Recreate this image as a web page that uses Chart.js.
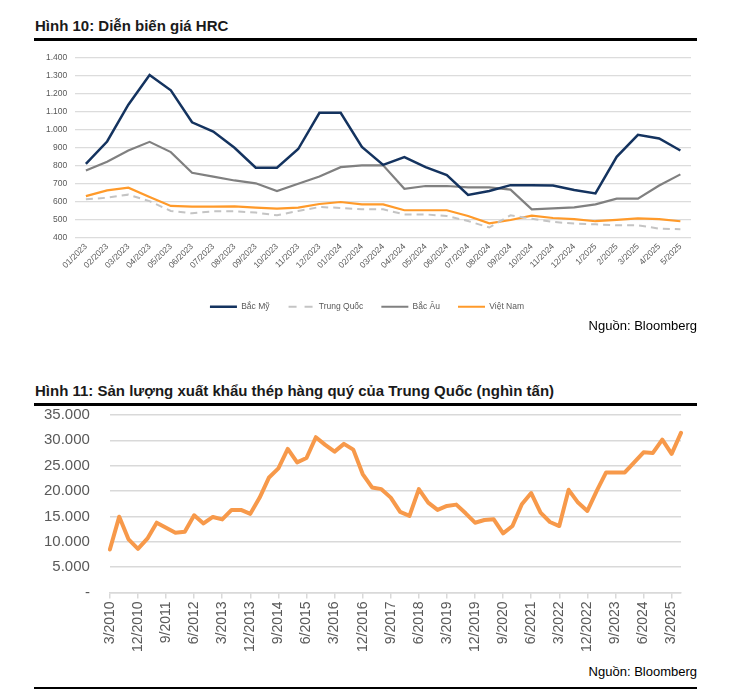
<!DOCTYPE html>
<html>
<head>
<meta charset="utf-8">
<script src="https://cdn.jsdelivr.net/npm/chart.js@4"></script>
<style>
  body { margin: 0; background: #fff; font-family: "Liberation Sans", Arial, sans-serif; }
  .wrap { position: relative; width: 730px; height: 698px; }
  .title { position: absolute; left: 35px; font-weight: bold; font-size: 15px; color: #1a1a1a; white-space: nowrap; }
  .rule { position: absolute; left: 34px; width: 663px; background: #000; }
  .src { position: absolute; right: 33px; font-size: 13px; color: #000; }
  .box { position: absolute; left: 0; width: 730px; }
</style>
</head>
<body>
<div class="wrap">
  <div class="title" style="top:17px;">Hình 10: Diễn biến giá HRC</div>
  <div class="rule" style="top:38px;height:2.5px;"></div>
  <div class="box" style="top:39px;height:282px;"><canvas id="hrc" width="730" height="282"></canvas></div>
  <div class="src" style="top:318px;">Nguồn: Bloomberg</div>

  <div class="title" style="top:382px;">Hình 11: Sản lượng xuất khẩu thép hàng quý của Trung Quốc (nghìn tấn)</div>
  <div class="rule" style="top:403px;height:2.5px;"></div>
  <div class="box" style="top:403px;height:252px;"><canvas id="xk" width="730" height="252"></canvas></div>
  <div class="src" style="top:664px;">Nguồn: Bloomberg</div>
  <div class="rule" style="top:687px;height:2px;"></div>
</div>
<script>
// Hinh 10 - gia HRC (USD/tan)
const thang = ['01/2023','02/2023','03/2023','04/2023','05/2023','06/2023','07/2023','08/2023','09/2023','10/2023','11/2023','12/2023',
  '01/2024','02/2024','03/2024','04/2024','05/2024','06/2024','07/2024','08/2024','09/2024','10/2024','11/2024','12/2024',
  '1/2025','2/2025','3/2025','4/2025','5/2025'];
const bacMy = [810,935,1140,1305,1220,1042,990,900,789,789,893,1095,1095,905,805,848,792,748,637,659,692,692,690,665,646,850,972,952,885];
const trungQuoc = [613,622,639,603,548,535,546,546,539,524,548,570,565,557,557,529,529,520,492,456,524,505,487,478,474,468,468,450,446];
const bacAu = [774,822,885,933,876,761,739,718,702,659,700,740,792,802,802,672,687,687,679,679,667,557,563,568,585,617,617,690,752];
const vietNam = [631,663,678,626,576,572,572,574,567,561,567,587,598,585,585,552,552,552,520,479,498,522,509,503,491,498,507,503,491];

// Hinh 11 - xuat khau thep theo quy (nghin tan)
const quy = ['3/2010','6/2010','9/2010','12/2010','3/2011','6/2011','9/2011','12/2011','3/2012','6/2012','9/2012','12/2012',
  '3/2013','6/2013','9/2013','12/2013','3/2014','6/2014','9/2014','12/2014','3/2015','6/2015','9/2015','12/2015',
  '3/2016','6/2016','9/2016','12/2016','3/2017','6/2017','9/2017','12/2017','3/2018','6/2018','9/2018','12/2018',
  '3/2019','6/2019','9/2019','12/2019','3/2020','6/2020','9/2020','12/2020','3/2021','6/2021','9/2021','12/2021',
  '3/2022','6/2022','9/2022','12/2022','3/2023','6/2023','9/2023','12/2023','3/2024','6/2024','9/2024','12/2024',
  '3/2025','6/2025'];
const xuatKhau = [8470,14940,10450,8600,10600,13750,12750,11770,11960,15200,13600,14880,
  14400,16270,16270,15500,18700,22680,24460,28300,25650,26520,30620,29100,
  27780,29300,28170,23350,20700,20370,18700,15870,15080,20370,17720,16270,
  17060,17320,15600,13750,14280,14420,11640,13090,17400,19600,15730,13890,
  13090,20240,17720,16070,20040,23670,23670,23670,25650,27640,27510,30150,
  27320,31480];

Chart.defaults.font.family = '"Liberation Sans", Arial, sans-serif';
Chart.defaults.animation = false;

const dotNghin = v => v === 0 ? '-' : v.toLocaleString('de-DE');

// mau gach ngang cho chu giai Trung Quoc
const gachNgang = document.createElement('canvas');
gachNgang.width = 27; gachNgang.height = 4;
const g = gachNgang.getContext('2d');
g.strokeStyle = '#c4c4c4'; g.lineWidth = 2; g.setLineDash([8, 8]);
g.beginPath(); g.moveTo(1, 2); g.lineTo(27, 2); g.stroke();

new Chart(document.getElementById('hrc'), {
  type: 'line',
  data: {
    labels: thang,
    datasets: [
      { label: 'Bắc Mỹ', data: bacMy, borderColor: '#14335f', borderWidth: 2.5, pointStyle: 'line' },
      { label: 'Trung Quốc', data: trungQuoc, borderColor: '#c4c4c4', borderWidth: 2, borderDash: [7, 5], pointStyle: gachNgang },
      { label: 'Bắc Âu', data: bacAu, borderColor: '#808080', borderWidth: 2.2, pointStyle: 'line' },
      { label: 'Việt Nam', data: vietNam, borderColor: '#ff9a2a', borderWidth: 2.2, pointStyle: 'line' }
    ]
  },
  options: {
    responsive: false,
    elements: { point: { radius: 0 }, line: { tension: 0 } },
    layout: { padding: { left: 43, right: 39, top: 19, bottom: 0 } },
    scales: {
      x: {
        offset: true,
        grid: { display: false, drawTicks: false },
        border: { display: false },
        ticks: { autoSkip: false, minRotation: 45, maxRotation: 45, padding: 4, color: '#595959', font: { size: 8.5 } },
        afterFit: s => { s.height += 10; }
      },
      y: {
        min: 400, max: 1400,
        ticks: { stepSize: 100, padding: 3, color: '#595959', font: { size: 8.5 }, callback: dotNghin },
        grid: { color: '#dcdcdc', lineWidth: 1.3, drawTicks: true, tickLength: 5, tickColor: 'rgba(0,0,0,0)' },
        border: { display: false }
      }
    },
    plugins: {
      tooltip: { enabled: false },
      legend: {
        position: 'bottom',
        labels: { usePointStyle: true, pointStyleWidth: 27, color: '#595959', font: { size: 8.5 }, padding: 18 }
      }
    }
  }
});

new Chart(document.getElementById('xk'), {
  type: 'line',
  data: {
    labels: quy,
    datasets: [
      { label: 'Xuất khẩu', data: xuatKhau, borderColor: '#f7994a', borderWidth: 4, borderJoinStyle: 'round', borderCapStyle: 'round' }
    ]
  },
  options: {
    responsive: false,
    elements: { point: { radius: 0 }, line: { tension: 0 } },
    layout: { padding: { left: 41, right: 49, top: 12, bottom: 0 } },
    scales: {
      x: {
        offset: false,
        grid: {
          drawOnChartArea: false, tickLength: 6, lineWidth: 1.5,
          color: c => c.index % 3 === 0 ? '#d9d9d9' : 'rgba(0,0,0,0)'
        },
        border: { color: '#d9d9d9', width: 1.5 },
        ticks: {
          autoSkip: false, minRotation: 90, maxRotation: 90, padding: 3, color: '#595959', font: { size: 14 },
          callback: (v, i) => i % 3 === 0 ? quy[i] : ''
        }
      },
      y: {
        min: 0, max: 35000,
        ticks: { stepSize: 5000, padding: 3, color: '#595959', font: { size: 15 }, callback: dotNghin },
        grid: { color: '#d9d9d9', lineWidth: 1.5, drawTicks: true, tickLength: 17, tickColor: 'rgba(0,0,0,0)' },
        border: { display: false }
      }
    },
    plugins: { legend: { display: false }, tooltip: { enabled: false } }
  }
});
</script>
</body>
</html>
